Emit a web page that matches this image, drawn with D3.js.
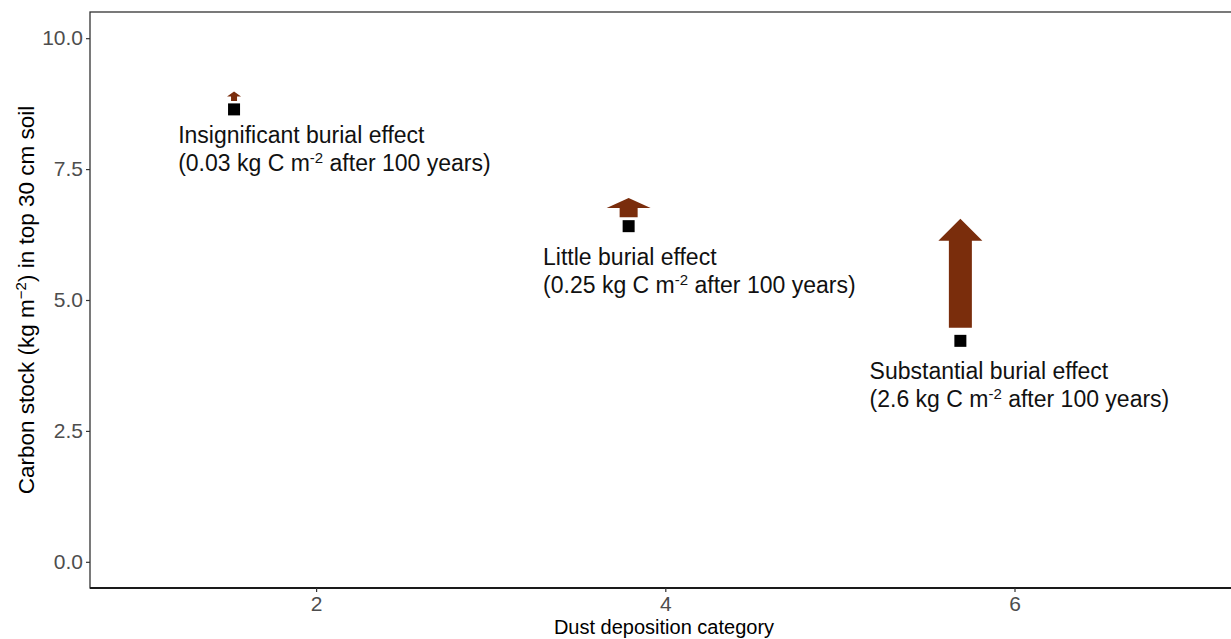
<!DOCTYPE html>
<html>
<head>
<meta charset="utf-8">
<script src="https://cdn.jsdelivr.net/npm/d3@7"></script>
<style>
  html, body { margin: 0; padding: 0; background: #fff; }
  svg { display: block; font-family: "Liberation Sans", Arial, sans-serif; }
</style>
</head>
<body>
<svg id="chart" width="1231" height="639"></svg>
<script>
// ---- data ----
const dustCategory   = [1.53, 3.79, 5.69];          // x position of each point
const carbonStock    = [8.64, 6.41, 4.22];          // kg m^-2 in top 30 cm
const arrowStart     = [8.80, 6.58, 4.47];          // arrow tail (y value)
const arrowEnd       = [8.98, 6.95, 6.55];          // arrow tip (y value)
const effectTitles   = ["Insignificant burial effect", "Little burial effect", "Substantial burial effect"];
const effectAmounts  = ["0.03", "0.25", "2.6"];
const labelX         = [1.21, 3.30, 5.17];          // label anchor (data units)
const labelY         = [8.00, 5.67, 3.49];
const xTicks         = [2, 4, 6];
const yTicks         = [0, 2.5, 5, 7.5, 10];

// ---- arrow geometry (px) ----
const arrowHeadW  = [14, 44, 44];
const arrowShaftW = [6, 18, 23];
const arrowHeadL  = [5, 10, 22];

const svg = d3.select("#chart");
const W = 1231, H = 639;
const m = { left: 90, top: 12, right: 0, bottom: 51 };

const x = d3.scaleLinear().domain([0.705, 7.24]).range([m.left, W - m.right]);
const y = d3.scaleLinear().domain([-0.5, 10.5]).range([H - m.bottom, m.top]);

// panel border
svg.append("rect")
  .attr("x", m.left).attr("y", m.top)
  .attr("width", W - m.left + 5).attr("height", H - m.bottom - m.top)
  .attr("fill", "none").attr("stroke", "#333").attr("stroke-width", 1.3);
// heavier bottom axis line
svg.append("line")
  .attr("x1", m.left).attr("x2", W)
  .attr("y1", H - m.bottom).attr("y2", H - m.bottom)
  .attr("stroke", "#1a1a1a").attr("stroke-width", 2);

// axes
const yAxis = svg.append("g").attr("transform", `translate(${m.left},0)`)
  .call(d3.axisLeft(y).tickValues(yTicks).tickFormat(d3.format(".1f")).tickSize(4).tickPadding(3));
const xAxis = svg.append("g").attr("transform", `translate(0,${H - m.bottom})`)
  .call(d3.axisBottom(x).tickValues(xTicks).tickFormat(d3.format("d")).tickSize(4).tickPadding(4));
[yAxis, xAxis].forEach(g => {
  g.select(".domain").remove();
  g.selectAll(".tick line").attr("stroke", "#333").attr("stroke-width", 1.2);
  g.selectAll(".tick text").attr("fill", "#4d4d4d").style("font-size", "21px")
    .style("font-family", "Liberation Sans, Arial, sans-serif");
});

// axis titles
svg.append("text")
  .attr("x", 664).attr("y", 634)
  .attr("text-anchor", "middle").attr("fill", "#000")
  .style("font-size", "20px").text("Dust deposition category");

const yt = svg.append("text")
  .attr("transform", `translate(34,${(m.top + H - m.bottom) / 2}) rotate(-90)`)
  .attr("text-anchor", "middle").attr("fill", "#000")
  .style("font-size", "22.5px");
yt.append("tspan").text("Carbon stock (kg m");
yt.append("tspan").attr("dy", -8).style("font-size", "15px").text("\u22122");
yt.append("tspan").attr("dy", 8).text(") in top 30 cm soil");

// arrows
const arrowColor = "#7a2d0c";
const arrowPath = (i) => {
  const cx = x(dustCategory[i]);
  const yb = y(arrowStart[i]);
  const yt2 = y(arrowEnd[i]);
  const hb = yt2 + arrowHeadL[i];
  const sw = arrowShaftW[i] / 2, hw = arrowHeadW[i] / 2;
  return `M${cx - sw},${yb} L${cx - sw},${hb} L${cx - hw},${hb} L${cx},${yt2} L${cx + hw},${hb} L${cx + sw},${hb} L${cx + sw},${yb} Z`;
};
svg.append("g").selectAll("path")
  .data(d3.range(dustCategory.length))
  .join("path")
  .attr("d", arrowPath)
  .attr("fill", arrowColor);

// points
const sq = 12;
svg.append("g").selectAll("rect")
  .data(d3.range(dustCategory.length))
  .join("rect")
  .attr("x", i => x(dustCategory[i]) - sq / 2)
  .attr("y", i => y(carbonStock[i]) - sq / 2)
  .attr("width", sq).attr("height", sq)
  .attr("fill", "#000");

// labels
const lab = svg.append("g").selectAll("text")
  .data(d3.range(dustCategory.length))
  .join("text")
  .attr("fill", "#111")
  .style("font-size", "23px");
lab.append("tspan")
  .attr("x", i => x(labelX[i])).attr("y", i => y(labelY[i]))
  .text(i => effectTitles[i]);
lab.append("tspan")
  .attr("x", i => x(labelX[i])).attr("y", i => y(labelY[i]) + 28)
  .text(i => `(${effectAmounts[i]} kg C m`);
lab.append("tspan")
  .attr("dy", -8).style("font-size", "15px").text("-2");
lab.append("tspan")
  .attr("dy", 8).text(" after 100 years)");
</script>
</body>
</html>
